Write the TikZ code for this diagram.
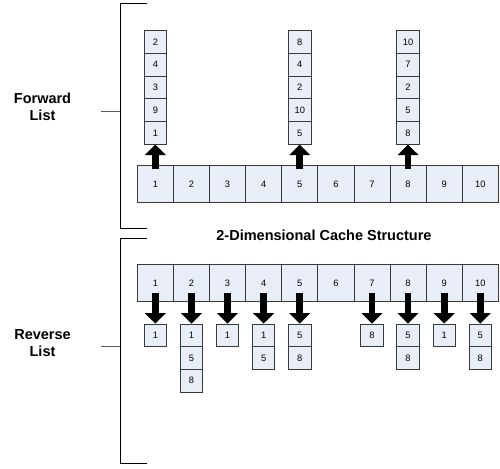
\documentclass[tikz,border=0pt]{standalone}
\usepackage{fontspec}
\setmainfont{Liberation Sans}
\usetikzlibrary{arrows.meta}
\definecolor{cellblue}{HTML}{E8EEF8}
\definecolor{edgegray}{HTML}{3A3A3A}
\definecolor{tickgray}{HTML}{5A5A5A}

\begin{document}
\begin{tikzpicture}[x=1pt,y=-1pt,
  cell/.style={draw=edgegray,fill=cellblue,line width=0.8pt,minimum width=36.1pt,minimum height=36.3pt,inner sep=0pt,font=\fontsize{9.3}{11}\selectfont},
  item/.style={draw=edgegray,fill=cellblue,line width=0.8pt,minimum width=22.4pt,minimum height=22.7pt,inner sep=0pt,font=\fontsize{9.3}{11}\selectfont},
  block/.style={line width=6.8pt,-{Triangle[length=10.5pt,width=20.5pt]}},
  sidetext/.style={font=\bfseries\fontsize{14.5}{17}\selectfont,align=center}]
\useasboundingbox (0,0) rectangle (500,468);
\draw[line width=0.9pt] (147,3.3) -- (120,3.3) -- (120,228) -- (147,228);
\draw[tickgray,line width=0.9pt] (101,111.7) -- (120,111.7);
\draw[line width=0.9pt] (147,238.7) -- (120,238.7) -- (120,463.3) -- (147,463.3);
\draw[tickgray,line width=0.9pt] (101,346) -- (120,346);
\node[sidetext] (fwd) at (42.5,106.7) {Forward\\List};
\node[sidetext] (rev) at (42.5,342.6) {Reverse\\List};
\node[sidetext] (title) at (324,235) {2-Dimensional Cache Structure};
\foreach \i in {1,...,10} {
  \node[cell] (f\i) at ({137.3+36.1*(\i-0.5)},184) {\i};
  \node[cell] (r\i) at ({137.3+36.1*(\i-0.5)},283) {\i};
}
\foreach \c/\vals in {1/{2,4,3,9,1},5/{8,4,2,10,5},8/{10,7,2,5,8}} {
  \foreach \v [count=\k] in \vals
    \node[item] (s\c-\k) at ({137.3+36.1*(\c-0.5)},{30.7+22.7*(\k-0.5)}) {\v};
  \draw[block] ([yshift=-4pt]f\c.north) -- (s\c-5.south);
}
\foreach \c/\vals in {1/{1},2/{1,5,8},3/{1},4/{1,5},5/{5,8},7/{8},8/{5,8},9/{1},10/{5,8}} {
  \foreach \v [count=\k] in \vals
    \node[item] (t\c-\k) at ({137.3+36.1*(\c-0.5)},{324+22.7*(\k-0.5)}) {\v};
  \draw[block] ([yshift=9pt]r\c.south) -- (t\c-1.north);
}
\end{tikzpicture}
\end{document}
